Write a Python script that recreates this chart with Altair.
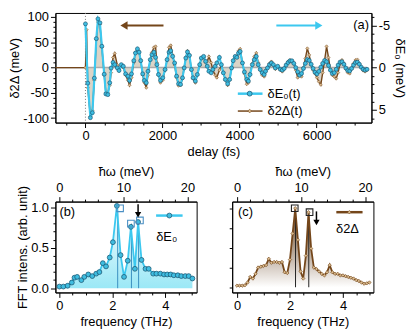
import altair as alt
import pandas as pd

FONT = "Liberation Sans"
CYAN = "#3cc8ef"
CYAN_PT = "#3fbde0"
CYAN_EDGE = "#1b5b78"
BROWN = "#74461a"
BROWN_PT = "#d9bb8f"
FILL_A = "#d5cdbd"

# ---------------- panel (a): time traces ----------------
cyan_t = [0, 60, 128, 180, 231, 282, 325, 376, 426, 487,
          530, 581, 631, 666, 717, 760, 828, 871, 931, 982,
          1042, 1102, 1144, 1196, 1255, 1298, 1350, 1392, 1435, 1486,
          1529, 1580, 1623, 1683, 1726, 1777, 1820, 1854, 1896, 1948,
          2008, 2067, 2119, 2170, 2213, 2264, 2315, 2366, 2417, 2469,
          2520, 2563, 2606, 2649, 2700, 2751, 2794, 2854, 2905, 2965,
          3008, 3068, 3119, 3162, 3205, 3264, 3307, 3367, 3410, 3478,
          3529, 3580, 3632, 3692, 3743, 3794, 3836, 3888, 3930, 3973,
          4016, 4076, 4127, 4187, 4230, 4273, 4333, 4384, 4435, 4486,
          4538, 4589, 4640, 4675, 4726, 4777, 4828, 4880, 4931, 4991,
          5060, 5110, 5160, 5210, 5260, 5310, 5360, 5410, 5460, 5510,
          5560, 5610, 5660, 5710, 5760, 5810, 5860, 5910, 5960, 6010,
          6060, 6110, 6160, 6210, 6260, 6310, 6360, 6410, 6460, 6510,
          6560, 6610, 6660, 6710, 6760, 6810, 6860, 6910, 6960, 7010,
          7060, 7110, 7160, 7210, 7260, 7310]
cyan_dE0 = [-5.18, 1.84, 5.93, 5.34, 1.25, -3.43, -5.77, -5.30, -2.53, 0.78,
            3.12, 3.20, 1.80, 0.06, -0.62, -0.35, 0.04, 0.35, -0.35, -0.16,
            0.74, 1.01, 1.52, 0.74, -0.82, -1.72, -2.22, -1.83, -0.82, 0.74,
            1.52, 1.79, 0.43, -0.94, -1.52, -1.83, -1.21, -0.35, 0.82, 1.52,
            1.21, 0.23, -0.94, -1.83, -1.99, -1.33, -0.55, 1.01, 1.91, 1.99,
            1.21, 0.04, -1.13, -1.85, -1.45, 0.23, 1.21, 1.60, 0.82, -0.35,
            -1.13, -1.33, -0.74, -0.16, 0.43, 0.62, 0.23, -0.16, -0.55, -1.21,
            -0.35, 0.62, 1.40, 1.91, 1.40, 0.04, -0.82, -1.33, -1.21, -1.72,
            -1.91, -0.55, 0.51, 1.40, 1.60, 0.82, -0.35, -0.94, -1.33, -0.35,
            0.23, 0.62, 0.82, 0.43, 0.04, -0.35, -0.55, -0.35, 0.04, -0.16,
            0.20, 0.30, 0.10, -0.30, -0.60, -0.80, -0.80, -0.50, 0.00, 0.50,
            0.90, 0.70, 0.10, -0.50, -0.95, -0.85, -0.40, 0.10, 0.55, 0.75,
            0.45, -0.05, -0.50, -0.85, -0.70, -0.25, 0.30, 0.70, 0.60, 0.20,
            -0.30, -0.65, -0.70, -0.40, 0.05, 0.35, 0.40, 0.10, -0.30, -0.60,
            -0.65, -0.40, -0.05, 0.20, 0.30, 0.20]

brown_t = [-780, 0, 30] + cyan_t[1:]
brown_d2D = [0, 0, 75,
             -40, -97, -85, -25, 55, 90, 85, 40, -15,
             -50, -50, -35, -10, 20, 28, 5, -5, 2, 0,
             -15, -25, -35, -20, 10, 30, 35, 32, 15, -15,
             -30, -40, -15, 15, 30, 40, 42, 10, -15, -30,
             -25, -5, 15, 40, 44, 25, 5, -20, -36, -35,
             -22, 0, 20, 33, 25, -5, -22, -30, -15, 5,
             18, 20, 10, 12, 22, 10, -5, -15, -20, -5,
             5, -10, -25, -35, -25, 0, 15, 22, 20, 33,
             37, 10, -12, -33, -30, -12, 8, 22, 29, 10,
             -5, -15, -18, -8, 0, 8, 12, 5, -3, 2,
             -5, -8, -3, 5, 12, 15, 14, 8, -5, -20,
             -15, -18, 0, 18, 38, 25, 5, -5, -12, -20,
             -28, -34, -10, 15, 42, 20, -5, -15, -18, -22,
             -10, 8, 15, 8, -3, -10, -12, -3, 8, 15,
             16, 8, 0, -6, -8, -5]

# annotations of panel (a) (data units)
arrow_tail = [2026, 4956]
arrow_head = [1000, 6059]
arrow_y = [83.2, 83.2]
arrow_col = [BROWN, CYAN]
arrow_shape = ["triangle-left", "triangle-right"]
leg_a_x = [3956, 4597]
leg_a_mark_x = [4264]
leg_a_text_x = [4726]
leg_a_y = [-51.6, -86.0]
leg_a_labels = ["δE₀(t)", "δ2Δ(t)"]

# ---------------- panel (b): FFT of dE0 ----------------
fft_b_freq = [0.00, 0.15, 0.31, 0.47, 0.57, 0.67, 0.83, 0.94, 1.09, 1.24,
              1.39, 1.51, 1.64, 1.76, 1.90, 2.02, 2.17, 2.31, 2.44, 2.58,
              2.70, 2.85, 2.97, 3.10, 3.25, 3.37, 3.54, 3.66, 3.81, 3.95,
              4.07, 4.20, 4.32, 4.47, 4.60, 4.75, 4.88, 5.02]
fft_b_val = [0.02, 0.02, 0.03, 0.07, 0.13, 0.14, 0.10, 0.14, 0.17, 0.15,
             0.18, 0.20, 0.31, 0.27, 0.38, 0.57, 1.02, 0.41, 0.14, 0.34,
             0.76, 0.24, 0.82, 0.35, 0.24, 0.24, 0.18, 0.18, 0.18, 0.17,
             0.17, 0.17, 0.16, 0.16, 0.15, 0.15, 0.15, 0.12]
b_line_freq = [2.20, 2.72, 2.99]
b_line_top = [0.99, 0.80, 0.84]
b_sq_freq = [2.29, 2.70, 3.04]
b_sq_val = [0.99, 0.80, 0.84]

# ---------------- panel (c): FFT of d2Delta ----------------
fft_c_freq = [0.0, 0.1, 0.2, 0.3, 0.4, 0.5, 0.6, 0.7, 0.8, 0.9,
              1.0, 1.1, 1.2, 1.3, 1.4, 1.5, 1.6, 1.7, 1.8, 1.9,
              2.0, 2.1, 2.2, 2.3, 2.4, 2.5, 2.6, 2.7, 2.8, 2.9,
              3.0, 3.1, 3.2, 3.3, 3.4, 3.5, 3.6, 3.7, 3.8, 3.9,
              4.0, 4.1, 4.2, 4.3, 4.4, 4.5, 4.6, 4.7, 4.8, 4.9, 5.0]
fft_c_val = [0.02, 0.02, 0.02, 0.025, 0.06, 0.13, 0.11, 0.17, 0.25, 0.26,
             0.27, 0.28, 0.36, 0.31, 0.32, 0.32, 0.31, 0.32, 0.19, 0.18,
             0.35, 0.68, 1.00, 0.60, 0.20, 0.11, 0.40, 0.95, 0.49, 0.25,
             0.23, 0.20, 0.17, 0.15, 0.19, 0.28, 0.19, 0.17, 0.17, 0.15,
             0.15, 0.14, 0.13, 0.12, 0.11, 0.09, 0.08, 0.06, 0.045, 0.05, 0.06]
c_line_freq = [2.21, 2.71]
c_line_top = [1.00, 0.95]
c_sq_freq = [2.18, 2.74]
c_sq_val = [1.00, 0.95]

MEV_PER_THZ = 4.1357


def tsize(test, major=5, minor=2.5):
    return {"condition": {"test": test, "value": major}, "value": minor}


one = pd.DataFrame({"k": [0]})

# ======================= panel (a) =======================
xa = alt.Scale(domain=[-780, 7425], nice=False, zero=False)
yl = alt.Scale(domain=[-108.8, 108], nice=False, zero=False)
yr = alt.Scale(domain=[-6.47, 6.51], nice=False, zero=False, reverse=True)

x_axis_a = alt.Axis(title="delay (fs)", values=list(range(-500, 7001, 500)),
                    labelExpr="datum.value % 2000 == 0 ? toString(datum.value) : ''",
                    tickSize=tsize("datum.value % 2000 == 0"),
                    labelFlush=False, labelOverlap=False)
yl_axis = alt.Axis(title="δ2Δ (meV)", values=list(range(-100, 101, 10)),
                   labelExpr="datum.value % 50 == 0 ? toString(datum.value) : ''",
                   tickSize=tsize("datum.value % 50 == 0"), titlePadding=1,
                   labelFlush=False, labelOverlap=False)
yr_axis = alt.Axis(title="δE₀ (meV)", orient="right", values=list(range(-6, 7)),
                   labelExpr="datum.value % 5 == 0 ? toString(datum.value) : ''",
                   tickSize=tsize("datum.value % 5 == 0"),
                   labelFlush=False, labelOverlap=False)

dfa_b = pd.DataFrame({"t": brown_t, "v": brown_d2D})
dfa_c = pd.DataFrame({"t": cyan_t, "v": cyan_dE0})

XA = lambda f: alt.X(f, scale=xa, axis=x_axis_a)
YL = lambda f: alt.Y(f, scale=yl, axis=yl_axis)
YR = lambda f: alt.Y(f, scale=yr, axis=yr_axis)

area_a = alt.Chart(dfa_b).mark_area(color=FILL_A, opacity=0.85).encode(
    x=XA("t:Q"), y=YL("v:Q"), y2=alt.Y2(datum=0))
zero_gray = alt.Chart(one).mark_rule(color="#aaaaaa", strokeWidth=1.5).encode(
    x=alt.X(datum=0, scale=xa, axis=x_axis_a), x2=alt.X2(datum=max(cyan_t)),
    y=alt.Y(datum=0, scale=yl, axis=yl_axis))
pre_zero = alt.Chart(one).mark_rule(color="#222222", strokeWidth=1.2).encode(
    x=alt.X(datum=brown_t[0], scale=xa, axis=x_axis_a), x2=alt.X2(datum=0),
    y=alt.Y(datum=0, scale=yl, axis=yl_axis))
dotted = alt.Chart(one).mark_rule(color="#777777", strokeDash=[1, 2], strokeWidth=1).encode(
    x=alt.X(datum=0, scale=xa, axis=x_axis_a))
brown_line = alt.Chart(dfa_b).mark_line(color=BROWN, strokeWidth=1.4).encode(
    x=XA("t:Q"), y=YL("v:Q"))
brown_pts = alt.Chart(dfa_b).transform_filter("datum.t >= 0").mark_point(
    shape="diamond", filled=True, size=10, fill=BROWN_PT, stroke=BROWN,
    strokeWidth=0.5, opacity=1).encode(x=XA("t:Q"), y=YL("v:Q"))

arr_df = pd.DataFrame({"tail": arrow_tail, "head": arrow_head, "y": arrow_y,
                       "col": arrow_col, "shape": arrow_shape})
arr_rule = alt.Chart(arr_df).mark_rule(strokeWidth=2.2).encode(
    x=XA("tail:Q"), x2="head:Q", y=YL("y:Q"), color=alt.Color("col:N", scale=None))
arr_head = alt.Chart(arr_df).mark_point(filled=True, size=70, opacity=1).encode(
    x=XA("head:Q"), y=YL("y:Q"), color=alt.Color("col:N", scale=None),
    shape=alt.Shape("shape:N", scale=None))

leg_df = pd.DataFrame({"x1": [leg_a_x[0]] * 2, "x2": [leg_a_x[1]] * 2,
                       "xm": leg_a_mark_x * 2, "xt": leg_a_text_x * 2,
                       "y": leg_a_y, "lab": leg_a_labels})
leg_c_line = alt.Chart(leg_df.iloc[[0]]).mark_rule(color=CYAN, strokeWidth=2.5).encode(
    x=XA("x1:Q"), x2="x2:Q", y=YL("y:Q"))
leg_c_pt = alt.Chart(leg_df.iloc[[0]]).mark_point(
    shape="circle", filled=True, size=24, fill=CYAN_PT, stroke=CYAN_EDGE,
    strokeWidth=0.8, opacity=1).encode(x=XA("xm:Q"), y=YL("y:Q"))
leg_b_line = alt.Chart(leg_df.iloc[[1]]).mark_rule(color=BROWN, strokeWidth=1.5).encode(
    x=XA("x1:Q"), x2="x2:Q", y=YL("y:Q"))
leg_b_pt = alt.Chart(leg_df.iloc[[1]]).mark_point(
    shape="diamond", filled=True, size=14, fill=BROWN_PT, stroke=BROWN,
    strokeWidth=0.6, opacity=1).encode(x=XA("xm:Q"), y=YL("y:Q"))
leg_txt = alt.Chart(leg_df).mark_text(align="left", baseline="middle", fontSize=13,
                                      font=FONT, color="black").encode(
    x=XA("xt:Q"), y=YL("y:Q"), text="lab:N")
a_lab = alt.Chart(one).mark_text(text="(a)", align="right", baseline="middle",
                                 fontSize=13, font=FONT, color="black").encode(
    x=alt.X(datum=7360, scale=xa, axis=x_axis_a),
    y=alt.Y(datum=84.6, scale=yl, axis=yl_axis))

left_group = alt.layer(area_a, zero_gray, pre_zero, dotted, brown_line, brown_pts,
                       arr_rule, arr_head, leg_c_line, leg_c_pt, leg_b_line, leg_b_pt,
                       leg_txt, a_lab)

cyan_line = alt.Chart(dfa_c).mark_line(color=CYAN, strokeWidth=2.2).encode(
    x=XA("t:Q"), y=YR("v:Q"))
cyan_pts = alt.Chart(dfa_c).mark_point(
    shape="circle", filled=True, size=16, fill=CYAN_PT, stroke=CYAN_EDGE,
    strokeWidth=0.7, opacity=1).encode(x=XA("t:Q"), y=YR("v:Q"))
right_group = alt.layer(cyan_line, cyan_pts)

top = alt.layer(left_group, right_group).resolve_scale(y="independent").properties(
    width=320, height=111)


# ======================= panels (b), (c) =======================
def fft_panel(freq, val, xdom, ydom, fill_grad, line_col, pt_kind, vline_freq, vline_top,
              vline_col, sq_freq, sq_val, sq_col, arrow_x, arrow_y, leg_line_x, leg_mark_x,
              leg_y, leg_text_x, leg_text_y, leg_text, panel_lab, panel_lab_x, panel_lab_y,
              show_y):
    xs = alt.Scale(domain=xdom, nice=False, zero=False)
    ys = alt.Scale(domain=ydom, nice=False, zero=False)
    xax = alt.Axis(title="frequency (THz)", values=[i * 0.5 for i in range(11)],
                   labelExpr="datum.value % 2 == 0 ? toString(datum.value) : ''",
                   tickSize=tsize("datum.value % 2 == 0"),
                   labelFlush=False, labelOverlap=False)
    if show_y:
        yax = alt.Axis(title="FFT intens. (arb. unit)",
                       values=[round(i * 0.1, 1) for i in range(11)],
                       labelExpr="abs(datum.value * 2 - round(datum.value * 2)) < 0.001 ? format(datum.value, '.1f') : ''",
                       tickSize=tsize("abs(datum.value * 2 - round(datum.value * 2)) < 0.001"),
                       titlePadding=1, labelFlush=False, labelOverlap=False)
    else:
        yax = alt.Axis(title=None, values=[0, 0.25, 0.5, 0.75, 1.0], labels=False,
                       tickSize=3)
    X0 = lambda f: alt.X(f, scale=xs, axis=xax)
    Y0 = lambda f: alt.Y(f, scale=ys, axis=yax)
    df = pd.DataFrame({"f": freq, "v": val})
    area = alt.Chart(df).mark_area(color=fill_grad).encode(
        x=X0("f:Q"), y=Y0("v:Q"), y2=alt.Y2(datum=0))
    vdf = pd.DataFrame({"f": vline_freq, "top": vline_top})
    vlines = alt.Chart(vdf).mark_rule(color=vline_col, strokeWidth=1).encode(
        x=X0("f:Q"), y=Y0("top:Q"), y2=alt.Y2(datum=0))
    line = alt.Chart(df).mark_line(color=line_col, strokeWidth=1.8).encode(
        x=X0("f:Q"), y=Y0("v:Q"))
    if pt_kind == "circle":
        pt_kw = dict(shape="circle", size=24, fill=CYAN_PT, stroke=CYAN_EDGE, strokeWidth=0.8)
    else:
        pt_kw = dict(shape="diamond", size=12, fill=BROWN_PT, stroke=BROWN, strokeWidth=0.6)
    pts = alt.Chart(df).mark_point(filled=True, opacity=1, **pt_kw).encode(
        x=X0("f:Q"), y=Y0("v:Q"))
    sdf = pd.DataFrame({"f": sq_freq, "v": sq_val})
    sq = alt.Chart(sdf).mark_point(shape="square", filled=False, size=45, color=sq_col,
                                   strokeWidth=1.1, opacity=1).encode(
        x=X0("f:Q"), y=Y0("v:Q"))
    adf = pd.DataFrame({"x": [arrow_x], "y1": [arrow_y[0]], "y2": [arrow_y[1]]})
    arule = alt.Chart(adf).mark_rule(color="black", strokeWidth=1.5).encode(
        x=X0("x:Q"), y=Y0("y1:Q"), y2="y2:Q")
    ahead = alt.Chart(adf).mark_point(shape="triangle-down", filled=True, size=40,
                                      color="black", opacity=1).encode(
        x=X0("x:Q"), y=Y0("y2:Q"))
    ldf = pd.DataFrame({"x1": [leg_line_x[0]], "x2": [leg_line_x[1]], "xm": [leg_mark_x],
                        "y": [leg_y], "xt": [leg_text_x], "yt": [leg_text_y],
                        "lab": [leg_text]})
    lline = alt.Chart(ldf).mark_rule(color=line_col, strokeWidth=2.5).encode(
        x=X0("x1:Q"), x2="x2:Q", y=Y0("y:Q"))
    lpt = alt.Chart(ldf).mark_point(filled=True, opacity=1, **pt_kw).encode(
        x=X0("xm:Q"), y=Y0("y:Q"))
    ltxt = alt.Chart(ldf).mark_text(align="center", baseline="middle", fontSize=13,
                                    font=FONT, color="black").encode(
        x=X0("xt:Q"), y=Y0("yt:Q"), text="lab:N")
    plab = alt.Chart(one).mark_text(text=panel_lab, align="left", baseline="middle",
                                    fontSize=13, font=FONT, color="black").encode(
        x=alt.X(datum=panel_lab_x, scale=xs, axis=xax),
        y=alt.Y(datum=panel_lab_y, scale=ys, axis=yax))
    main = alt.layer(area, vlines, line, pts, sq, arule, ahead, lline, lpt, ltxt, plab)
    mev_dom = [xdom[0] * MEV_PER_THZ, xdom[1] * MEV_PER_THZ]
    top_axis = alt.Chart(pd.DataFrame({"meV": [0, 20]})).mark_point(opacity=0).encode(
        x=alt.X("meV:Q", scale=alt.Scale(domain=mev_dom, nice=False, zero=False),
                axis=alt.Axis(orient="top", title="ħω (meV)", values=list(range(0, 21, 2)),
                              labelExpr="datum.value % 10 == 0 ? toString(datum.value) : ''",
                              tickSize=tsize("datum.value % 10 == 0"),
                              labelFlush=False, labelOverlap=False)),
        y=alt.value(0))
    return alt.layer(main, top_axis).resolve_scale(x="independent").properties(
        width=143, height=92)


grad_b = alt.Gradient(gradient="linear",
                      stops=[alt.GradientStop(color="#ffffff", offset=0),
                             alt.GradientStop(color="#9be8f6", offset=1)],
                      x1=1, x2=1, y1=0, y2=1)
grad_c = alt.Gradient(gradient="linear",
                      stops=[alt.GradientStop(color="#5e3814", offset=0),
                             alt.GradientStop(color="#ffffff", offset=1)],
                      x1=1, x2=1, y1=0, y2=1)

panel_b = fft_panel(fft_b_freq, fft_b_val, [-0.15, 5.18], [-0.053, 1.073], grad_b, CYAN,
                    "circle", b_line_freq, b_line_top, "#3a8fc0", b_sq_freq, b_sq_val,
                    "#4a8fc4", 2.97, [1.04, 0.91], [3.65, 4.65], 4.15, 0.90, 4.05, 0.63,
                    "δE₀", "(b)", 0.0, 0.94, True)
panel_c = fft_panel(fft_c_freq, fft_c_val, [-0.18, 5.15], [-0.066, 1.084], grad_c, BROWN,
                    "diamond", c_line_freq, c_line_top, "#222222", c_sq_freq, c_sq_val,
                    "#222222", 3.0, [0.96, 0.82], [3.75, 4.74], 4.24, 0.95, 4.17, 0.74,
                    "δ2Δ", "(c)", 0.04, 0.95, False)

bottom = alt.hconcat(panel_b, panel_c, spacing=31)

chart = alt.vconcat(top, bottom, spacing=6).properties(
    padding={"left": 0, "top": 0, "right": 0, "bottom": 0}
).configure_view(stroke="black", strokeWidth=1).configure_axis(
    labelFont=FONT, titleFont=FONT, labelFontSize=13, titleFontSize=13,
    titleFontWeight="normal", domainColor="black", tickColor="black",
    labelColor="black", titleColor="black", grid=False, labelPadding=2,
    titlePadding=3, domainWidth=1, tickWidth=1
).configure_text(font=FONT)

chart.save("out.html", embed_options={"renderer": "svg", "actions": False})
